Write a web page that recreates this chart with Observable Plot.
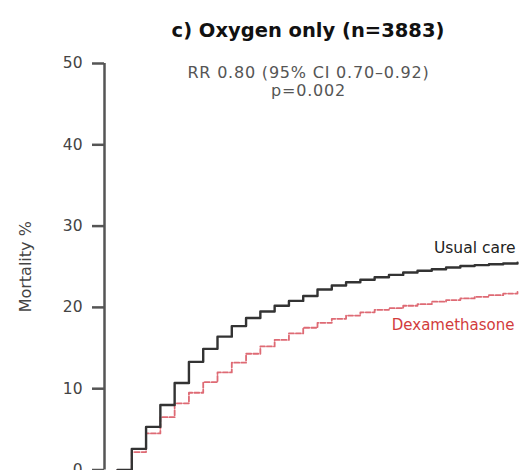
<!DOCTYPE html>
<html>
<head>
<meta charset="utf-8">
<script src="https://cdn.jsdelivr.net/npm/d3@7"></script>
<script src="https://cdn.jsdelivr.net/npm/@observablehq/plot@0.6"></script>
<style>
  html, body { margin: 0; padding: 0; background: #fff; overflow: hidden; }
  #title {
    width: 521px; height: 46px; box-sizing: border-box;
    padding-top: 20px; padding-left: 95px; text-align: center;
    font-family: "DejaVu Sans", sans-serif; font-weight: bold; font-size: 19.5px;
    line-height: 22px; color: #111;
  }
</style>
</head>
<body>
<div id="title">c) Oxygen only (n=3883)</div>
<div id="chart"></div>
<script>
const days = [0,1,2,3,4,5,6,7,8,9,10,11,12,13,14,15,16,17,18,19,20,21,22,23,24,25,26,27,28];
const usualCare = [0, 2.6, 5.3, 8.0, 10.7, 13.3, 14.9, 16.4, 17.7, 18.7, 19.5, 20.2, 20.8, 21.4, 22.2, 22.7, 23.1, 23.4, 23.7, 24.0, 24.3, 24.5, 24.7, 24.9, 25.1, 25.2, 25.3, 25.4, 25.5];
const dexamethasone = [0, 2.2, 4.5, 6.5, 8.2, 9.5, 10.8, 12.0, 13.2, 14.3, 15.2, 16.0, 16.8, 17.5, 18.1, 18.6, 19.0, 19.4, 19.7, 19.9, 20.2, 20.4, 20.7, 20.9, 21.1, 21.3, 21.5, 21.7, 21.9];
const seriesNames = ["Usual care", "Dexamethasone"];
const yTicks = [0, 10, 20, 30, 40, 50];
const annotation = "RR 0.80 (95% CI 0.70\u20130.92)\np=0.002";

const rows = [];
days.forEach((d, i) => {
  rows.push({day: d, value: usualCare[i], series: seriesNames[0]});
  rows.push({day: d, value: dexamethasone[i], series: seriesNames[1]});
});
const uc = rows.filter(r => r.series === seriesNames[0]);
const dx = rows.filter(r => r.series === seriesNames[1]);

const chart = Plot.plot({
  width: 521,
  height: 424,
  marginLeft: 117,
  marginRight: 4,
  marginTop: 17,
  marginBottom: 0.5,
  style: {fontFamily: "DejaVu Sans, sans-serif", background: "#fff", overflow: "visible"},
  x: {domain: [0, 28], axis: null},
  y: {domain: [0, 50]},
  marks: [
    Plot.ruleX([0], {dx: -13, stroke: "#555", strokeWidth: 2.5}),
    Plot.axisY({
      ticks: yTicks, tickSize: 12, tickPadding: 10, dx: -13,
      fontSize: 15.5, color: "#444", stroke: "#555", strokeWidth: 2.5,
      label: null
    }),
    Plot.text(["Mortality %"], {frameAnchor: "left", textAnchor: "middle", dx: -92, rotate: -90, fontSize: 16, fill: "#444"}),
    Plot.line(dx, {x: "day", y: "value", curve: "step-after", stroke: "#de6a74", strokeWidth: 1.8, strokeDasharray: "5 2"}),
    Plot.line(uc, {x: "day", y: "value", curve: "step-after", stroke: "#333", strokeWidth: 2.4}),
    Plot.text(uc, Plot.selectLast({x: "day", y: "value", text: "series", textAnchor: "end", dx: -2, dy: -15, fontSize: 15.5, fill: "#222"})),
    Plot.text(dx, Plot.selectLast({x: "day", y: "value", text: "series", textAnchor: "end", dx: -3, dy: 33, fontSize: 15, fill: "#d23c3c"})),
    Plot.text([annotation], {frameAnchor: "top", dx: -9, dy: 2, fontSize: 16, lineHeight: 1.12, fill: "#555", lineAnchor: "top"})
  ]
});
d3.select(chart).selectAll("text").filter(function() { return this.textContent.startsWith("RR"); })
  .style("letter-spacing", "0.8px");
document.getElementById("chart").appendChild(chart);
</script>
</body>
</html>
